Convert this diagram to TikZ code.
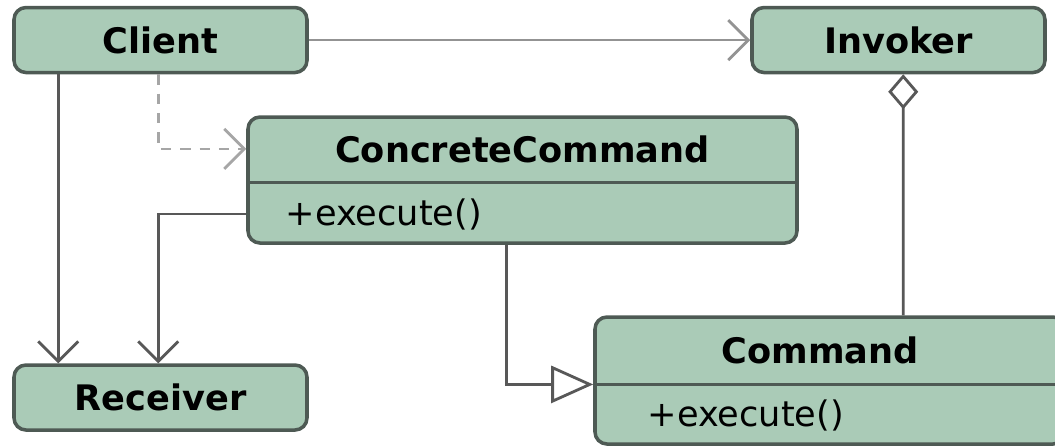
\documentclass[tikz,border=0pt]{standalone}
\usepackage{fontspec}
\setmainfont{DejaVu Sans}
\usepackage{xcolor}
\usetikzlibrary{arrows.meta}

\definecolor{classfill}{RGB}{170,203,183}
\definecolor{classline}{RGB}{78,90,84}
\definecolor{linkline}{RGB}{88,88,88}

\begin{document}
\begin{tikzpicture}[
    class/.style={draw=classline, fill=classfill, line width=1pt, rounded corners=0.12cm,
                  inner sep=0pt, font=\fontsize{10}{12}\selectfont\bfseries},
    title/.style={inner sep=0pt, minimum height=0.66cm, font=\fontsize{10}{12}\selectfont\bfseries},
    oper/.style={inner sep=0pt, font=\fontsize{10}{12}\selectfont, anchor=west},
    assoc/.style={draw=linkline, line width=0.8pt, -{Straight Barb[length=0.2cm,width=0.4cm]}},
    depend/.style={draw=gray!70, line width=0.8pt, dash pattern=on 3pt off 2.5pt,
                   -{Straight Barb[length=0.2cm,width=0.4cm]}},
    realize/.style={draw=linkline, line width=0.8pt,
                    -{Triangle[open,fill=white,length=0.42cm,width=0.37cm]}},
    aggr/.style={draw=linkline, line width=0.8pt,
                 {Diamond[open,fill=white,length=0.35cm,width=0.3cm]}-}
]
    \useasboundingbox (0,0) rectangle (10.55,-4.46);

    \node[class, minimum width=2.93cm, minimum height=0.65cm] (client) at (1.605,-0.40) {Client};
    \node[class, minimum width=2.93cm, minimum height=0.65cm] (invoker) at (8.985,-0.40) {Invoker};
    \node[class, minimum width=2.93cm, minimum height=0.65cm] (receiver) at (1.605,-3.975) {Receiver};

    % ConcreteCommand: name and one operation
    \node[class, minimum width=5.49cm, minimum height=1.26cm] (cc) at (5.225,-1.80) {};
    \node[title, anchor=north] (cct) at (cc.north) {ConcreteCommand};
    \node[oper] (cco) at (2.85,-2.14) {+execute()};
    \draw[classline, line width=1pt] (cc.west |- cct.south) -- (cc.east |- cct.south);

    % Command runs off the right edge
    \node[class, minimum width=4.70cm, minimum height=1.27cm] (cmd) at (8.30,-3.805) {};
    \node[title, anchor=north] (cmdt) at (8.20,-3.17) {Command};
    \node[oper] (cmdo) at (6.47,-4.15) {+execute()};
    \draw[classline, line width=1pt] (cmd.west |- cmdt.south) -- (cmd.east |- cmdt.south);

    \draw[assoc, draw=gray!85] (client.east) -- (invoker.west);
    \draw[assoc] ([xshift=0.46cm]client.south west) -- ([xshift=0.46cm]receiver.north west);
    \draw[depend] ([xshift=1.46cm]client.south west) |- (cc.west |- cct);
    \draw[assoc] (cc.west |- cco) -| ([xshift=1.46cm]receiver.north west);
    \draw[realize] ([xshift=2.60cm]cc.south west) |- (cmd.west |- cmdt.south);
    \draw[aggr] ([xshift=1.53cm]invoker.south west) -- ([xshift=3.10cm]cmd.north west);
\end{tikzpicture}
\end{document}
